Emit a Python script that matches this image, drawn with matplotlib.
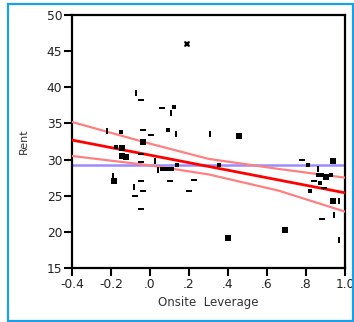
import matplotlib
matplotlib.use("Agg")
import matplotlib.pyplot as plt
from matplotlib.patches import Rectangle

# ---- data ----
x_vals = [0.19, -0.07, -0.046, 0.06, 0.125, 0.11, -0.22, -0.15, -0.036, 0.005,
          0.094, 0.135, 0.31, 0.455, -0.036, -0.176, -0.145, -0.145, -0.125, -0.046,
          0.026, -0.046, -0.19, -0.186, 0.043, 0.074, 0.10, 0.10, -0.046, -0.08,
          -0.036, -0.077, -0.046, 0.224, 0.20, 0.355, 0.40, 0.69, 0.78, 0.86,
          0.84, 0.82, 0.87, 0.90, 0.89, 0.873, 0.937, 0.93, 0.937, 0.97,
          0.945, 0.88, 0.97, 0.81, 0.14]
y_vals = [46.0, 39.2, 38.25, 37.1, 37.3, 36.5, 34.0, 33.8, 34.1, 33.4,
          34.1, 33.6, 33.6, 33.2, 32.4, 31.7, 31.6, 30.5, 30.3, 30.8,
          29.8, 29.6, 27.75, 27.0, 28.5, 28.7, 28.7, 27.1, 27.1, 26.2,
          25.6, 24.9, 23.1, 27.2, 25.7, 29.2, 19.2, 20.3, 30.0, 28.75,
          27.0, 25.6, 27.8, 27.6, 26.0, 26.7, 29.8, 27.8, 24.2, 24.2,
          22.3, 21.8, 18.9, 29.2, 29.3]
shapes = ['x', 'v', 'h', 'h', 's', 'v', 'v', 's', 'h', 'h',
          's', 'v', 'v', 'S', 'S', 's', 'S', 'S', 'S', 'h',
          'v', 'h', 'v', 'S', 'v', 'H', 'H', 'h', 'h', 'v',
          'h', 'h', 'h', 'h', 'h', 's', 'S', 'S', 'h', 'v',
          'h', 's', 'H', 'S', 'h', 's', 'S', 's', 'S', 'v',
          'v', 'h', 'v', 's', 's']

fit_x = [-0.4, 1.0]
fit_y = [32.7, 25.4]
upper_x = [-0.4, -0.2, 0.0, 0.3, 0.66, 1.0]
upper_y = [35.2, 33.7, 32.2, 30.1, 28.7, 27.5]
lower_x = [-0.4, 0.0, 0.3, 0.66, 1.0]
lower_y = [30.5, 29.2, 27.95, 25.7, 22.8]
mean_y = 29.2

xticks = [-0.4, -0.2, 0.0, 0.2, 0.4, 0.6, 0.8, 1.0]
xticklabels = ['-0.4', '-0.2', '.0', '.2', '.4', '.6', '.8', '1.0']
yticks = [15, 20, 25, 30, 35, 40, 45, 50]

# ---- figure ----
fig = plt.figure(figsize=(3.54, 3.22), dpi=100)
fig.patches.append(Rectangle((7.5/354, 1/322), 345/354, 317/322, transform=fig.transFigure,
                             fill=False, edgecolor='#1aa0e6', linewidth=1.6))
ax = fig.add_axes([72/354, 54/322, 273/354, 253/322])

ax.plot(fit_x, [mean_y, mean_y], color='#9a8cff', lw=1.8, zorder=2)
ax.plot(upper_x, upper_y, color='#ff8080', lw=1.6, zorder=3)
ax.plot(lower_x, lower_y, color='#ff8080', lw=1.6, zorder=3)
ax.plot(fit_x, fit_y, color='#ff0000', lw=2.0, zorder=4)

vbar = [(-0.5, -1.2), (0.5, -1.2), (0.5, 1.2), (-0.5, 1.2), (-0.5, -1.2)]
hbar = [(-1.2, -0.5), (1.2, -0.5), (1.2, 0.5), (-1.2, 0.5), (-1.2, -0.5)]
styles = {
    's': dict(marker='s', ms=2.7),
    'S': dict(marker='s', ms=4.2),
    'v': dict(marker=vbar, ms=4.2),
    'h': dict(marker=hbar, ms=4.2),
    'H': dict(marker=hbar, ms=5.4),
    'x': dict(marker='X', ms=4.5),
}
for code, st in styles.items():
    xs = [x for x, s in zip(x_vals, shapes) if s == code]
    ys = [y for y, s in zip(y_vals, shapes) if s == code]
    ax.plot(xs, ys, linestyle='none', color='black', mec='black', mew=0,
            zorder=5, **st)

ax.set_xlim(-0.4, 1.0)
ax.set_ylim(15, 50)
ax.set_xticks(xticks)
ax.set_xticklabels(xticklabels)
ax.set_yticks(yticks)
for sp in ax.spines.values():
    sp.set_linewidth(1.6)
    sp.set_color('black')
ax.tick_params(direction='out', length=6, width=1.5, labelsize=8.8, colors='black',
               labelcolor='#222222', pad=1)
ax.set_ylabel('Rent', fontsize=8, color='#333333', labelpad=13)
ax.set_xlabel('Onsite  Leverage', fontsize=8.5, color='#333333', labelpad=4)

fig.savefig('out.png', dpi=100)
